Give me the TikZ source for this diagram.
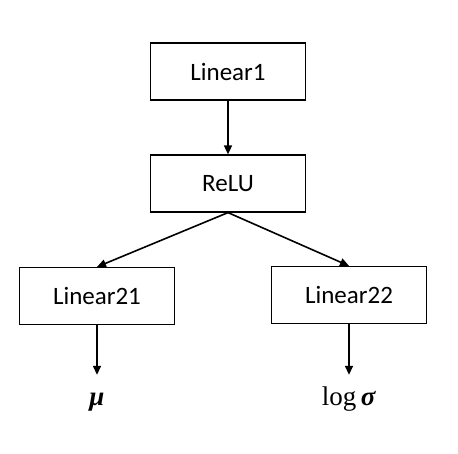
\documentclass[tikz,border=0pt]{standalone}
\usepackage{fontspec}
\newfontfamily\boxfont{Carlito}
\newfontfamily\mathfont{Liberation Serif}
\usetikzlibrary{arrows.meta, positioning}

\begin{document}
\begin{tikzpicture}[
  x=1pt, y=-1pt,
  layer/.style={
    rectangle, draw=black, line width=1.2pt,
    minimum width=155pt, minimum height=57pt,
    inner sep=0pt, font=\boxfont\fontsize{25}{30}\selectfont
  },
  output/.style={
    anchor=base, inner xsep=0pt, inner ysep=14pt,
    text height=16pt, text depth=0pt,
    font=\mathfont\fontsize{27}{30}\selectfont
  },
  flow/.style={line width=1.6pt, -{Triangle[length=9pt,width=8pt]}}
]
  \useasboundingbox (0,0) rectangle (458,454);

  % Layers
  \node[layer] (lin1) at (228,71.5) {Linear1};
  \node[layer] (relu) at (228,183.5) {ReLU};
  \node[layer] (lin21) at (97,296) {Linear21};
  \node[layer] (lin22) at (349,295) {Linear22};

  % Outputs
  \node[output] (mu) at (97,405) {\textbf{\textit{μ}}};
  \node[output] (logsig) at (349,405) {log\,\textbf{\textit{σ}}};

  % Connections
  \draw[flow] (lin1.south) -- (relu.north);
  \draw[flow] (relu.south) -- (lin21.north);
  \draw[flow] (relu.south) -- (lin22.north);
  \draw[flow] (lin21.south) -- (mu.north);
  \draw[flow] (lin22.south) -- (logsig.north);
\end{tikzpicture}
\end{document}
